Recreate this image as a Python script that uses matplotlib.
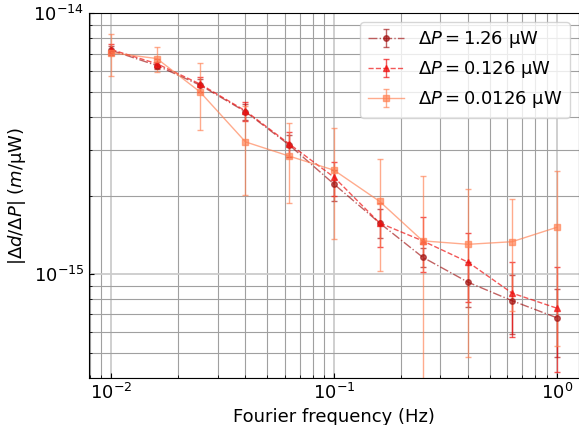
import numpy as np
import matplotlib
matplotlib.use('Agg')
import matplotlib.pyplot as plt

# Fourier frequencies (Hz)
freq = [0.01, 0.016, 0.025, 0.04, 0.063, 0.1, 0.16, 0.25, 0.4, 0.63, 1.0]

# |dd/dP| in units of 1e-15 m/uW
resp_126 = [7.2, 6.3, 5.3, 4.19, 3.12, 2.21, 1.57, 1.16, 0.93, 0.79, 0.68]
err_126 = [0.3, 0.2, 0.3, 0.3, 0.3, 0.3, 0.2, 0.1, 0.18, 0.2, 0.2]
resp_0126 = [7.25, 6.4, 5.35, 4.22, 3.15, 2.35, 1.57, 1.34, 1.11, 0.845, 0.74]
err_0126 = [0.35, 0.25, 0.35, 0.35, 0.35, 0.35, 0.3, 0.32, 0.33, 0.27, 0.32]
resp_00126 = [7.05, 6.7, 4.99, 3.21, 2.83, 2.5, 1.9, 1.34, 1.3, 1.33, 1.51]
err_00126 = [1.3, 0.75, 1.44, 1.2, 0.96, 1.14, 0.87, 1.04, 0.82, 0.61, 0.98]

labels = [r'$\Delta P = 1.26$ µW', r'$\Delta P = 0.126$ µW', r'$\Delta P = 0.0126$ µW']

fig = plt.figure(figsize=(5.79, 4.25), dpi=100)
ax = fig.add_axes([0.154, 0.111, 0.846, 0.858])

scale = 1e-15
ax.errorbar(freq, np.array(resp_126) * scale, yerr=np.array(err_126) * scale,
            fmt='o-.', color='#a01010', ms=4, lw=1, capsize=2, alpha=0.65, label=labels[0])
ax.errorbar(freq, np.array(resp_0126) * scale, yerr=np.array(err_0126) * scale,
            fmt='^--', color='#ee1111', ms=4, lw=1, capsize=2, alpha=0.7, label=labels[1])
ax.errorbar(freq, np.array(resp_00126) * scale, yerr=np.array(err_00126) * scale,
            fmt='s-', color='#ff7f50', ms=4, lw=1, capsize=2, alpha=0.65, label=labels[2])

ax.set_xscale('log')
ax.set_yscale('log')
ax.set_ylim(4.0e-16, 1e-14)
ax.grid(True, which='major', color='#cccccc', lw=1.3)
ax.grid(True, which='minor', color='#a0a0a0', lw=0.8)
ax.set_axisbelow(True)

ax.tick_params(which='both', direction='in', labelsize=13)
ax.set_xlabel('Fourier frequency (Hz)', fontsize=13)
ax.set_ylabel(r'$|\Delta d/\Delta P|$ $(m/$µW$)$', fontsize=13)
ax.legend(loc='upper right', fontsize=13)

fig.savefig('out.png', dpi=100)
